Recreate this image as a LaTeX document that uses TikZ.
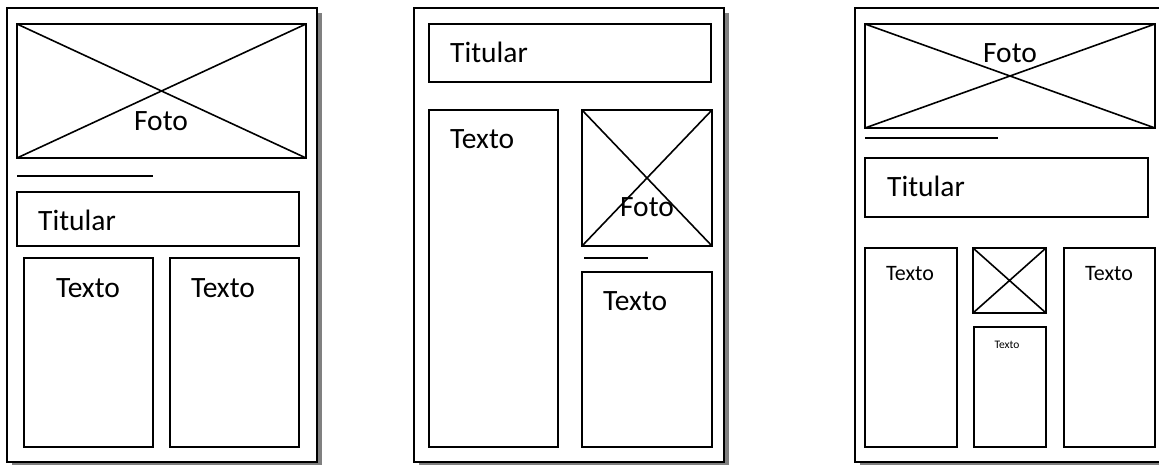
\documentclass[tikz,border=0pt]{standalone}
\usepackage{fontspec}
\setmainfont{Carlito}
\begin{document}
\begin{tikzpicture}[x=1pt, y=-1pt,
  pageshadow/.style={fill=black!50, draw=none},
  sheet/.style={draw=black, fill=white, line width=2pt},
  frame/.style={draw=black, line width=2pt},
  cross/.style={draw=black, line width=1.6pt},
  rule/.style={draw=black, line width=2pt},
  label/.style={font=\fontsize{29.5}{31}\selectfont, inner sep=0pt, anchor=base},
  midlabel/.style={label, font=\fontsize{22}{24}\selectfont},
  tinylabel/.style={label, font=\fontsize{11.5}{13}\selectfont}]
\useasboundingbox (0,0) rectangle (1159,465);
\clip (0,0) rectangle (1159,465);

% ---- layout 1: photo on top, headline, two text columns
\fill[pageshadow] (12,13) rectangle (322,467);
\draw[sheet] (7,8) rectangle (317,462);
\draw[frame] (17,24) rectangle (306,158);
\draw[cross] (17,24) -- (306,158) (17,158) -- (306,24);
\node[label] (foto1) at (161,131) {Foto};
\draw[rule] (17,176) -- (153,176);
\draw[frame] (17,192) rectangle (299,246);
\node[label, anchor=base west] (tit1) at (38,230) {Titular};
\draw[frame] (24,258) rectangle (153,447);
\node[label] (txt1a) at (88,297) {Texto};
\draw[frame] (170,258) rectangle (299,447);
\node[label] (txt1b) at (223,297) {Texto};

% ---- layout 2: headline, long text column, photo and text on the right
\fill[pageshadow] (419,13) rectangle (729,467);
\draw[sheet] (414,8) rectangle (724,462);
\draw[frame] (429,24) rectangle (711,82);
\node[label, anchor=base west] (tit2) at (450,63) {Titular};
\draw[frame] (429,110) rectangle (558,447);
\node[label, anchor=base west] (txt2a) at (450,149) {Texto};
\draw[frame] (582,110) rectangle (712,246);
\draw[cross] (582,110) -- (712,246) (582,246) -- (712,110);
\node[label] (foto2) at (647,217) {Foto};
\draw[rule] (584,258) -- (648,258);
\draw[frame] (582,272) rectangle (712,447);
\node[label, anchor=base west] (txt2b) at (603,310) {Texto};

% ---- layout 3: photo, headline, three columns with a small photo
\fill[pageshadow] (860,13) rectangle (1170,467);
\draw[sheet] (855,8) rectangle (1165,462);
\draw[frame] (865,24) rectangle (1155,128);
\draw[cross] (865,24) -- (1155,128) (865,128) -- (1155,24);
\node[label] (foto3) at (1010,63) {Foto};
\draw[rule] (865,138) -- (998,138);
\draw[frame] (865,158) rectangle (1148,217);
\node[label, anchor=base west] (tit3) at (887,197) {Titular};
\draw[frame] (865,248) rectangle (957,447);
\node[midlabel] (txt3a) at (910,280) {Texto};
\draw[frame] (973,248) rectangle (1046,313);
\draw[cross] (973,248) -- (1046,313) (973,313) -- (1046,248);
\draw[frame] (974,327) rectangle (1046,447);
\node[tinylabel] (txt3b) at (1007,348) {Texto};
\draw[frame] (1064,248) rectangle (1155,447);
\node[midlabel] (txt3c) at (1109,280) {Texto};
\end{tikzpicture}
\end{document}
